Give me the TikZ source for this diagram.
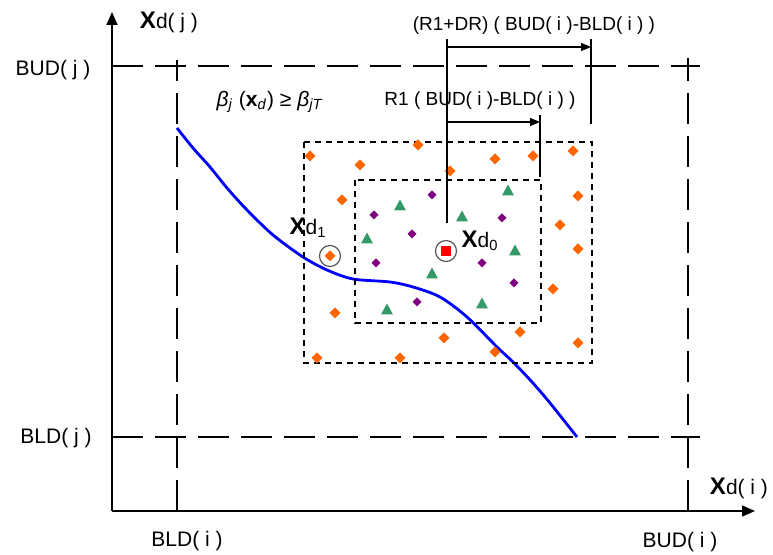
\documentclass[tikz,border=0pt]{standalone}
\usepackage{fontspec}
\setmainfont{Liberation Sans}
\usetikzlibrary{arrows.meta}
\definecolor{MarkOrange}{RGB}{255,102,0}
\definecolor{MarkPurple}{RGB}{128,0,128}
\definecolor{MarkGreen}{RGB}{51,153,102}
\definecolor{CurveBlue}{RGB}{0,0,255}
\definecolor{RingGray}{RGB}{90,90,90}

\tikzset{
  axis/.style={line width=0.8pt, -{Triangle[length=6.5pt,width=5.5pt]}},
  bound/.style={line width=0.75pt, dash pattern=on 15.5pt off 6pt},
  region/.style={line width=0.6pt, dash pattern=on 3pt off 2.5pt},
  span/.style={line width=0.6pt},
  spanarrow/.style={line width=0.6pt, -{Triangle[length=5pt,width=4pt]}},
  lbl/.style={font=\fontsize{10.5}{12}\selectfont, inner sep=0pt},
  smalllbl/.style={font=\fontsize{9.5}{11}\selectfont, inner sep=0pt},
  ring/.style={circle, draw=RingGray, line width=0.6pt, minimum size=10.5pt, inner sep=0pt},
}

\begin{document}
\begin{tikzpicture}[x=0.5pt, y=-0.5pt]
    \useasboundingbox (0,0) rectangle (773,555);

    % Axes
    \coordinate (O) at (112,511);
    \draw[axis] (O) -- (112,12);
    \draw[axis] (O) -- (755,511);
    \node[lbl] (yname) at (169,22) {\textbf{\fontsize{12}{12}\selectfont X}d( j )};
    \node[lbl] (xname) at (739,488) {\textbf{\fontsize{12}{12}\selectfont X}d( i )};

    % Bounds
    \draw[bound] (112,66) -- (700,66);
    \draw[bound] (112,437) -- (700,437);
    \draw[bound] (177,511) -- (177,60);
    \draw[bound] (688,511) -- (688,58);
    \node[lbl] (budj) at (53,70) {BUD( j )};
    \node[lbl] (bldj) at (56,438) {BLD( j )};
    \node[lbl] (bldi) at (187,541) {BLD( i )};
    \node[lbl] (budi) at (680,542) {BUD( i )};

    % Constraint curve
    \draw[CurveBlue, line width=1.4pt] plot[smooth] coordinates {
      (177,128) (193,148) (210,167) (227,188) (247,210) (273,235)
      (303,257) (327,270) (353,279) (390,282) (413,287) (440,297)
      (467,317) (497,347) (513,362) (532,382) (550,403) (577,437)};
    \node[lbl] (beta) at (270,102) {\textit{β}\textsubscript{\textit{j}} (\textbf{x}\textsubscript{\textit{d}}) ≥ \textit{β}\textsubscript{\textit{jT}}};

    % Search regions
    \draw[region] (304,142) rectangle (592,363);
    \draw[region] (355,180) rectangle (541,323);

    % Outer points
    \foreach \x/\y in {310/156, 418/145, 360/165, 450/171, 495/159, 533/156,
                       573/151, 342/200, 578/196, 560/225, 578/249, 553/289,
                       335/313, 444/338, 520/332, 578/343, 317/358, 400/358,
                       495/352, 330/256}
      \fill[MarkOrange] (\x,\y) +(0,-5.5) -- +(5.5,0) -- +(0,5.5) -- +(-5.5,0) -- cycle;

    % Inner points
    \foreach \x/\y in {432/195, 374/215, 502/218, 412/234, 376/263, 482/263,
                       514/283, 417/302}
      \fill[MarkPurple] (\x,\y) +(0,-4.5) -- +(4.5,0) -- +(0,4.5) -- +(-4.5,0) -- cycle;
    \foreach \x/\y in {508/191, 400/206, 462/217, 367/239, 515/251, 432/274,
                       387/310, 482/304}
      \fill[MarkGreen] (\x,\y) +(-6,4.5) -- +(6,4.5) -- +(0,-6.5) -- cycle;

    % Current and previous designs
    \fill[red] (441,246) rectangle (451,256);
    \node[ring] (xd0) at (446,251) {};
    \node[ring] (xd1) at (330,256) {};
    \node[lbl] (xd0lbl) at (480,241) {\textbf{\fontsize{12}{12}\selectfont X}d\textsubscript{0}};
    \node[lbl] (xd1lbl) at (308,228) {\textbf{\fontsize{12}{12}\selectfont X}d\textsubscript{1}};

    % Step sizes
    \coordinate (s0) at (447,223);
    \coordinate (s1) at (447,39);
    \coordinate (r1top) at (540,115);
    \coordinate (r1bot) at (540,177);
    \coordinate (r2top) at (591,39);
    \coordinate (r2bot) at (591,124);
    \draw[span] (s0) -- (s1);
    \draw[span] (r1top) -- (r1bot);
    \draw[span] (r2top) -- (r2bot);
    \draw[spanarrow] (447,47) -- (r2top |- 0,47);
    \draw[spanarrow] (447,122) -- (r1top |- 0,122);
    \node[smalllbl] (outerlbl) at (534,26) {(R1+DR) ( BUD( i )-BLD( i ) )};
    \node[smalllbl] (innerlbl) at (480,101) {R1 ( BUD( i )-BLD( i ) )};
\end{tikzpicture}
\end{document}
